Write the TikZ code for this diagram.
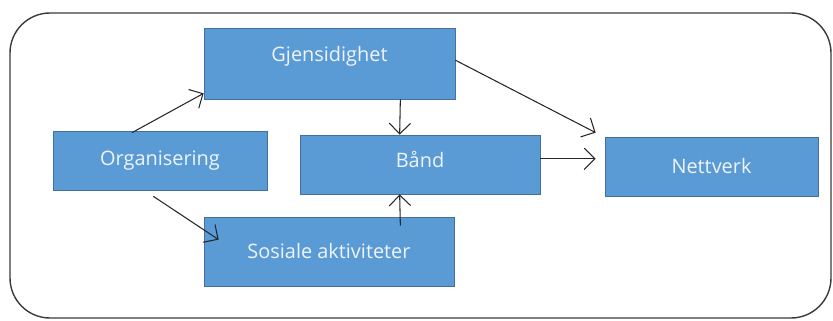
\documentclass[tikz,border=0pt]{standalone}
\usepackage{fontspec}
\setmainfont{Open Sans}
\usepackage{tikz}
\usetikzlibrary{positioning,arrows.meta,calc}
\definecolor{boxblue}{HTML}{5B9BD5}
\definecolor{boxedge}{HTML}{41719C}
\definecolor{boxtext}{HTML}{EEF4FB}
\definecolor{frameline}{HTML}{3A3A3A}

\begin{document}
\begin{tikzpicture}[
  block/.style={draw=boxedge, fill=boxblue, text=boxtext, line width=0.6pt,
    minimum height=1.77cm, align=center, font=\fontsize{17}{19}\selectfont},
  arr/.style={-{Straight Barb[length=3.2mm,width=6.4mm]}, line width=0.9pt, draw=black!85}
]
  \useasboundingbox (0,0) rectangle (24.99,9.6);

  % Outer frame
  \draw[frameline, line width=1.2pt, rounded corners=1.2cm]
    (0.3,0.06) rectangle (24.93,9.21);

  % Boxes
  \node[block, minimum width=7.53cm, minimum height=2.13cm, text depth=0.55cm]
    (Gjens) at (9.885,7.695) {Gjensidighet};
  \node[block, minimum width=6.42cm]
    (Org) at (4.8,4.785) {Organisering};
  \node[block, minimum width=7.2cm, text depth=0.3cm]
    (Band) at (12.6,4.665) {Bånd};
  \node[block, minimum width=7.5cm, minimum height=2.07cm]
    (Sosiale) at (9.87,2.055) {Sosiale aktiviteter};
  \node[block, minimum width=6.39cm]
    (Net) at (21.345,4.605) {Nettverk};

  % Arrows
  \draw[arr] ($(Org.north)+(-0.84,-0.06)$) -- ($(Gjens.south west)+(0,0.18)$);
  \draw[arr] ($(Org.south)+(-0.2,-0.18)$) -- ($(Sosiale.north west)+(0.45,-0.69)$);
  \draw[arr] ($(Gjens.south east)+(-1.65,0)$) -- ($(Band.north west)+(3,0)$);
  \draw[arr] ($(Sosiale.north east)+(-1.62,-0.27)$) -- ($(Band.south west)+(3,0)$);
  \draw[arr] ($(Gjens.east)+(0,0.1)$) -- ($(Net.north west)+(-0.27,0.12)$);
  \coordinate (bandout) at ($(Band.east)+(0,0.17)$);
  \draw[arr] (bandout) -- ($(Net.west |- bandout)+(-0.27,0)$);
\end{tikzpicture}
\end{document}
